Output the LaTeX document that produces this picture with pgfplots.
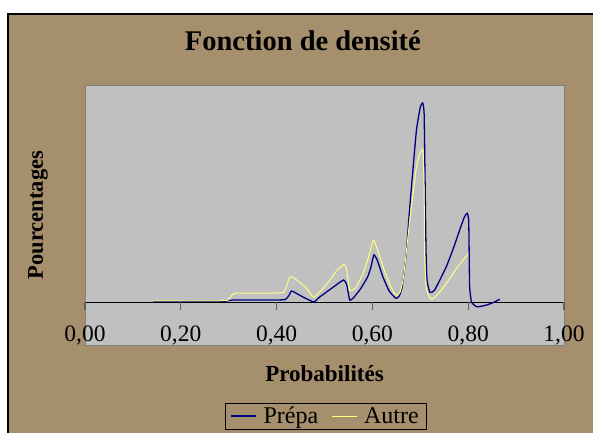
\documentclass[border=0pt]{standalone}
\usepackage{pgfplots}
\pgfplotsset{compat=1.18}
\usepackage{fontspec}
\setmainfont{Liberation Serif}

\definecolor{tanbg}{HTML}{A68F6D}
\definecolor{plotgray}{HTML}{C0C0C0}
\definecolor{navy}{HTML}{000080}
\definecolor{paleyellow}{HTML}{FFFF80}
\definecolor{tickgray}{HTML}{606060}

\begin{document}
\begin{tikzpicture}[x=1pt,y=1pt]
\useasboundingbox (0,0) rectangle (593,432);
\fill[white] (0,0) rectangle (593,432);
\begin{scope}
\clip (0,0) rectangle (593,432);
\filldraw[fill=tanbg, draw=black, line width=1.2pt] (8,-20) rectangle (610,418);
\end{scope}
\begin{axis}[
    at={(85pt,87pt)}, anchor=south west,
    scale only axis,
    width=479pt, height=260pt,
    xmin=0, xmax=1, ymin=-43, ymax=217,
    clip=false,
    axis background/.style={fill=plotgray, draw=gray},
    axis x line*=middle,
    axis y line*=left,
    y axis line style={draw=none},
    ytick=\empty,
    x axis line style={black, line width=0.8pt},
    xtick={0,0.2,0.4,0.6,0.8,1},
    hide obscured x ticks=false,
    xtick align=outside,
    major tick length=8pt,
    xtick style={draw=none},
    /pgf/number format/assume math mode=true,
    xticklabel style={font=\fontsize{23.5}{27}\selectfont, yshift=-12pt,
        /pgf/number format/.cd, fixed, fixed zerofill, precision=2, use comma},
    title={Fonction de densité},
    title style={font=\bfseries\fontsize{28.5}{34}\selectfont,
        at={(axis description cs:0.455,1.108)}, anchor=base},
    xlabel={Probabilités},
    xlabel style={font=\bfseries\fontsize{23}{28}\selectfont,
        at={(axis description cs:0.5,-0.141)}, anchor=base},
    ylabel={Pourcentages},
    ylabel style={font=\bfseries\fontsize{22.5}{27}\selectfont,
        at={(axis description cs:-0.098,0.5)}, anchor=center},
    legend columns=2,
    legend style={at={(axis description cs:0.2923,-0.222)}, anchor=north west,
        draw=black, fill=tanbg, font=\fontsize{24}{28}\selectfont,
        inner xsep=5pt,
        /tikz/every odd column/.append style={column sep=5pt},
        /tikz/every even column/.append style={column sep=11pt}},
    legend image code/.code={\draw[#1] (0pt,0pt) -- (25pt,0pt);},
]
\addplot[navy, line width=1.3pt, smooth, tension=0.3] coordinates {
    (0.142,0.5) (0.20,0.6) (0.29,0.8) (0.300,1.5) (0.310,2) (0.35,2) (0.40,2)
    (0.418,2.5) (0.425,6) (0.431,11) (0.44,9) (0.455,5) (0.47,1.5) (0.478,0)
    (0.49,5) (0.51,12) (0.53,19) (0.540,22) (0.546,18) (0.550,8) (0.553,1.7)
    (0.56,4) (0.575,13) (0.59,25) (0.597,35) (0.603,47) (0.61,42) (0.622,25)
    (0.635,11) (0.649,3.7) (0.656,6) (0.662,15) (0.670,45) (0.678,95)
    (0.686,140) (0.692,172) (0.700,195) (0.705,199) (0.708,188) (0.710,120)
    (0.712,50) (0.714,22) (0.720,9.7) (0.73,12) (0.754,35) (0.770,55)
    (0.782,71.7) (0.792,85) (0.798,88.7) (0.801,82) (0.802,50) (0.803,15)
    (0.807,0) (0.818,-4.7) (0.835,-3.5) (0.850,-1) (0.866,2.7)
};
\addlegendentry{Prépa}
\addplot[paleyellow, line width=1pt, smooth, tension=0.3] coordinates {
    (0.142,1.2) (0.20,1.2) (0.29,1.3) (0.300,2.5) (0.305,6) (0.313,8.7)
    (0.35,8.8) (0.40,9) (0.414,9.5) (0.420,15) (0.426,23.7) (0.431,25.3)
    (0.445,21) (0.460,15) (0.473,7) (0.478,4.7) (0.49,10) (0.51,21) (0.525,31)
    (0.541,37.7) (0.546,33) (0.550,20) (0.553,11.3) (0.565,14) (0.580,28)
    (0.592,45) (0.602,62) (0.607,57) (0.616,45) (0.626,30) (0.636,18)
    (0.645,9) (0.651,6.7) (0.658,10) (0.665,25) (0.672,55) (0.678,82)
    (0.686,112) (0.692,135) (0.698,147) (0.703,152) (0.706,150) (0.708,110)
    (0.709,50) (0.712,15) (0.718,6) (0.724,2.7) (0.735,7) (0.754,18.3)
    (0.775,33.3) (0.788,41) (0.799,48)
};
\addlegendentry{Autre}
% graduations sous la ligne y=0
\draw[tickgray, line width=1.2pt] (axis cs:0,0) -- (axis cs:0,-8);
\draw[tickgray, line width=1.2pt] (axis cs:0.2,0) -- (axis cs:0.2,-8);
\draw[tickgray, line width=1.2pt] (axis cs:0.4,0) -- (axis cs:0.4,-8);
\draw[tickgray, line width=1.2pt] (axis cs:0.6,0) -- (axis cs:0.6,-8);
\draw[tickgray, line width=1.2pt] (axis cs:0.8,0) -- (axis cs:0.8,-8);
\draw[tickgray, line width=1.2pt] (axis cs:1,0) -- (axis cs:1,-8);
\end{axis}
\end{tikzpicture}
\end{document}
